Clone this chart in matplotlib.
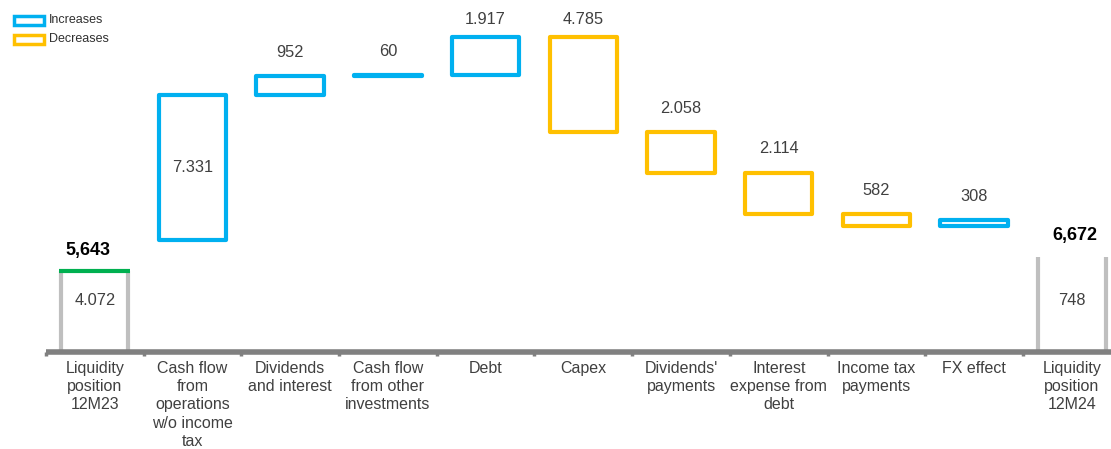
import matplotlib
matplotlib.use("Agg")
import matplotlib.pyplot as plt
from matplotlib.patches import Rectangle

plt.rcParams["font.family"] = ["Liberation Sans", "DejaVu Sans"]

# liquidity bridge, values in thousands
categories = [
    "Liquidity\nposition\n12M23",
    "Cash flow\nfrom\noperations\nw/o income\ntax",
    "Dividends\nand interest",
    "Cash flow\nfrom other\ninvestments",
    "Debt",
    "Capex",
    "Dividends'\npayments",
    "Interest\nexpense from\ndebt",
    "Income tax\npayments",
    "FX effect",
    "Liquidity\nposition\n12M24",
]
opening = 5.643
changes = [7.331, 0.952, 0.060, 1.917, -4.785, -2.058, -2.114, -0.582, 0.308]
cash_open = 4.072
cash_change = 0.748

BLUE = "#00B0F0"
ORANGE = "#FFC000"
GREEN = "#00B050"
GREY = "#BFBFBF"
AXIS = "#808080"
TXT = "#404040"


def fmt(v):
    v = abs(v)
    if v >= 1:
        return f"{v:.3f}"
    return f"{v * 1000:.0f}"


fig = plt.figure(figsize=(11.11, 4.49), dpi=100)
ax = fig.add_axes([0, 0, 1, 1])
ax.set_xlim(-0.97, 10.4)
ax.set_ylim(-4.9, 17.78)
ax.axis("off")

w = 0.69
n = len(categories)
closing = opening + sum(changes)
cash_close = cash_open + cash_change

# grey opening / closing bars (sides only)
for i, h in [(0, cash_open), (n - 1, cash_close)]:
    ax.vlines([i - w / 2, i + w / 2], 0, h, color=GREY, lw=3, zorder=2)
ax.hlines(cash_open, -w / 2 - 0.02, w / 2 + 0.02, color=GREEN, lw=3, zorder=3)
ax.text(0, 2.6, fmt(cash_open), ha="center", va="center", fontsize=11.8, color=TXT)
ax.text(n - 1, 2.6, fmt(cash_change), ha="center", va="center", fontsize=11.8, color=TXT)
ax.text(-0.07, cash_open + 1.05, f"{opening * 1000:,.0f}", ha="center", va="center",
        fontsize=13, fontweight="bold", color="black")
ax.text(n - 1 + 0.03, cash_close + 1.05, f"{closing * 1000:,.0f}", ha="center", va="center",
        fontsize=13, fontweight="bold", color="black")

# floating change bars
level = opening
for i, v in enumerate(changes, start=1):
    lo, hi = sorted([level, level + v])
    col = BLUE if v > 0 else ORANGE
    ax.bar(i, hi - lo, bottom=lo, width=w, fill=False, edgecolor=col,
           linewidth=3, joinstyle="round", zorder=3)
    if abs(v) > 5:
        ax.text(i, (lo + hi) / 2, fmt(v), ha="center", va="center", fontsize=11.8, color=TXT)
    else:
        ax.text(i, min(hi + 1.2, 16.8), fmt(v), ha="center", va="center",
                fontsize=11.8, color=TXT)
    level += v

# baseline with small ticks between categories
ax.hlines(0, -0.5, 10.4, color=AXIS, lw=4, zorder=4)
ax.vlines([k + 0.5 for k in range(-1, n - 1)], -0.2, 0, color=AXIS, lw=2.5, zorder=4)

for i, c in enumerate(categories):
    ax.text(i, -0.45, c, ha="center", va="top", fontsize=11.5, color=TXT, linespacing=1.27)

# legend
for k, (lab, col) in enumerate([("Increases", BLUE), ("Decreases", ORANGE)]):
    y = 449 - 20 - k * 19
    fig.add_artist(Rectangle((13.5 / 1111, (y - 4.5) / 449), 30 / 1111, 9 / 449,
                             transform=fig.transFigure, fill=False, edgecolor=col, lw=2.5))
    fig.text(49 / 1111, y / 449, lab, ha="left", va="center", fontsize=9, color="#303030")

fig.savefig("out.png", dpi=100)
